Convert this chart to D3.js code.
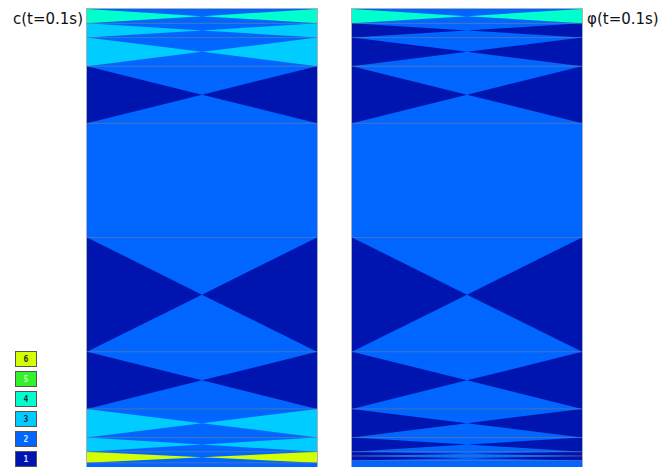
<!DOCTYPE html>
<html>
<head>
<meta charset="utf-8">
<script src="https://cdn.jsdelivr.net/npm/d3@7"></script>
<style>
  body { margin: 0; background: #fff; }
  svg { display: block; }
</style>
</head>
<body>
<svg id="chart" width="663" height="467"></svg>
<script>
// Mesh nodes (depth, 0 = top of domain, 1 = nominal bottom)
const nodesC   = [0, 0.03125, 0.0625, 0.125, 0.25, 0.5, 0.75, 0.875, 0.9375, 0.96875, 0.993, 1.04];
const nodesPhi = [0, 0.03125, 0.0625, 0.125, 0.25, 0.5, 0.75, 0.875, 0.9375, 0.96875, 0.978, 0.988, 1.04];

// Level of the left/right triangles and top/bottom triangles of each band
const sideC   = [4, 3, 3, 1, 2, 1, 1, 3, 3, 6, 2];
const midC    = [2, 2, 2, 2, 2, 2, 2, 2, 2, 2, 2];
const sidePhi = [4, 1, 1, 1, 2, 1, 1, 1, 1, 1, 1, 2];
const midPhi  = [2, 2, 2, 2, 2, 2, 2, 2, 2, 2, 2, 2];

// Legend levels and colours
const levels = [1, 2, 3, 4, 5, 6];
const levelColors = ["#0014b0", "#0066ff", "#00ccff", "#00ffcc", "#33f22a", "#d4ff00"];

const titles = ["c(t=0.1s)", "\u03c6(t=0.1s)"];

const svg = d3.select("#chart");
const color = d3.scaleOrdinal().domain(levels).range(levelColors);
const y = d3.scaleLinear().domain([0, 1]).range([9, 466]);
const line = d3.line();

function drawPanel(x0, x1, nodes, side, mid) {
    const x = d3.scaleLinear().domain([0, 1]).range([x0, x1]);
    const g = svg.append("g");
    const bands = d3.range(nodes.length - 1).map(i => ({
        t: nodes[i], b: nodes[i + 1], side: side[i], mid: mid[i]
    }));

    // each band: fill with the top/bottom level, then the left/right triangles on top
    g.selectAll("rect.band")
        .data(bands)
        .join("rect")
        .attr("class", "band")
        .attr("x", x(0)).attr("width", x(1) - x(0))
        .attr("y", d => y(d.t)).attr("height", d => y(d.b) - y(d.t) + 0.5)
        .attr("fill", d => color(d.mid));

    bands.filter(d => d.side !== d.mid).forEach(d => {
        const c = (d.t + d.b) / 2;
        const tris = [
            [[0, d.t], [0.5, c], [0, d.b]],
            [[1, d.t], [0.5, c], [1, d.b]]
        ];
        g.selectAll(null)
            .data(tris)
            .join("path")
            .attr("d", t => line(t.map(p => [x(p[0]), y(p[1])])) + "Z")
            .attr("fill", color(d.side));
    });

    // horizontal element edges
    g.selectAll("line.edge")
        .data(nodes.slice(1, -1))
        .join("line")
        .attr("class", "edge")
        .attr("x1", x(0)).attr("x2", x(1))
        .attr("y1", d => y(d)).attr("y2", d => y(d))
        .attr("stroke", "#6a7a99")
        .attr("stroke-width", 0.8)
        .attr("stroke-opacity", 0.8);

    g.append("rect")
        .attr("x", x(0) - 0.5).attr("y", y(0) - 0.5)
        .attr("width", x(1) - x(0) + 1).attr("height", y(nodes[nodes.length - 1]) - y(0))
        .attr("fill", "none")
        .attr("stroke", "#a8b0b8")
        .attr("stroke-width", 1);
}

drawPanel(87, 317, nodesC, sideC, midC);
drawPanel(352, 582, nodesPhi, sidePhi, midPhi);

// titles
svg.append("text")
    .attr("x", 83).attr("y", 24)
    .attr("text-anchor", "end")
    .attr("font-family", "DejaVu Sans")
    .attr("font-size", 15)
    .attr("fill", "#111")
    .text(titles[0]);
svg.append("text")
    .attr("x", 587).attr("y", 24)
    .attr("font-family", "DejaVu Sans")
    .attr("font-size", 15)
    .attr("fill", "#111")
    .text(titles[1]);

// legend
const ly = d3.scaleBand().domain(levels.slice().reverse()).range([351, 466]).paddingInner(0.25);
const leg = svg.append("g").selectAll("g")
    .data(levels)
    .join("g")
    .attr("transform", d => `translate(15,${ly(d)})`);
leg.append("rect")
    .attr("x", 0.5).attr("y", 0.5)
    .attr("width", 21).attr("height", ly.bandwidth())
    .attr("fill", d => color(d))
    .attr("stroke", "#555")
    .attr("stroke-width", 1);
leg.append("text")
    .attr("x", 11).attr("y", ly.bandwidth() / 2 + 3.5)
    .attr("text-anchor", "middle")
    .attr("font-family", "DejaVu Sans Mono")
    .attr("font-size", 8)
    .attr("font-weight", "bold")
    .attr("fill", d => d <= 2 ? "#dde4ff" : (d === 5 ? "#c8ffc0" : "#1a2a30"))
    .text(d => d);
</script>
</body>
</html>
